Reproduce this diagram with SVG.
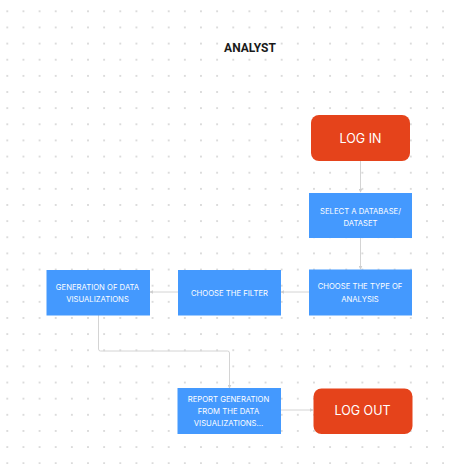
<svg xmlns="http://www.w3.org/2000/svg" width="451" height="464" viewBox="0 0 451 464">
<defs>
<pattern id="dots" x="7.3" y="11.3" width="16.14" height="16.14" patternUnits="userSpaceOnUse">
<circle cx="0" cy="0" r="1" fill="#d2d2d2"/>
<circle cx="16.14" cy="0" r="1" fill="#d2d2d2"/>
<circle cx="0" cy="16.14" r="1" fill="#d2d2d2"/>
<circle cx="16.14" cy="16.14" r="1" fill="#d2d2d2"/>
</pattern>
<marker id="arr" viewBox="0 0 6 6" refX="5" refY="3" markerWidth="4" markerHeight="4" orient="auto">
<path d="M0,0 L6,3 L0,6 Z" fill="#cfcfcf"/>
</marker>
<style>
.blue{fill:#4499FE}
.red{fill:#E5431B}
.t{font-family:Inter,"Noto Sans",sans-serif;fill:#fff;text-anchor:middle;font-size:7.7px}
.tb{font-family:Inter,"Noto Sans",sans-serif;fill:#fff;text-anchor:middle;font-size:12.5px}
.c{fill:none;stroke:#d4d4d4;stroke-width:1}
</style>
</defs>
<rect width="451" height="464" fill="#fff"/>
<rect width="451" height="464" fill="url(#dots)"/>
<text x="250" y="51.5" font-family="Roboto,'Noto Sans',sans-serif" font-weight="bold" font-size="12" text-anchor="middle" fill="#1a1a1a">ANALYST</text>
<g id="connectors">
<path class="c" d="M360.5,161 V192" marker-end="url(#arr)"/>
<path class="c" d="M360.5,238 V269" marker-end="url(#arr)"/>
<path class="c" d="M309,292 H281" marker-end="url(#arr)"/>
<path class="c" d="M178,292 H150" marker-end="url(#arr)"/>
<path class="c" d="M98.5,315 V349 Q98.5,351 100.5,351 H227.5 Q229.5,351 229.5,353 V388" marker-end="url(#arr)"/>
<path class="c" d="M281,410 H313" marker-end="url(#arr)"/>
</g>
<g id="login">
<rect class="red" x="311" y="115" width="99" height="46" rx="8"/>
<text class="tb" x="360.5" y="142.5">LOG IN</text>
</g>
<g id="select">
<rect class="blue" x="309" y="193" width="103" height="45"/>
<text class="t" x="360.5" y="213.5">SELECT A DATABASE/</text>
<text class="t" x="360.5" y="225.5">DATASET</text>
</g>
<g id="type">
<rect class="blue" x="309" y="269.5" width="103" height="46"/>
<text class="t" x="360" y="289">CHOOSE THE TYPE OF</text>
<text class="t" x="360" y="302">ANALYSIS</text>
</g>
<g id="filter">
<rect class="blue" x="178" y="270" width="103" height="45.5"/>
<text class="t" x="229.5" y="296">CHOOSE THE FILTER</text>
</g>
<g id="generation">
<rect class="blue" x="46.5" y="270" width="103.5" height="45.5"/>
<text class="t" x="97.5" y="289.5">GENERATION OF DATA</text>
<text class="t" x="97.5" y="302">VISUALIZATIONS</text>
</g>
<g id="report">
<rect class="blue" x="177.5" y="388" width="103.5" height="46"/>
<text class="t" x="228.5" y="402">REPORT GENERATION</text>
<text class="t" x="228.5" y="414">FROM THE DATA</text>
<text class="t" x="228.5" y="426">VISUALIZATIONS...</text>
</g>
<g id="logout">
<rect class="red" x="313.5" y="388.5" width="99" height="45.5" rx="8"/>
<text class="tb" x="362.5" y="415">LOG OUT</text>
</g>
</svg>
